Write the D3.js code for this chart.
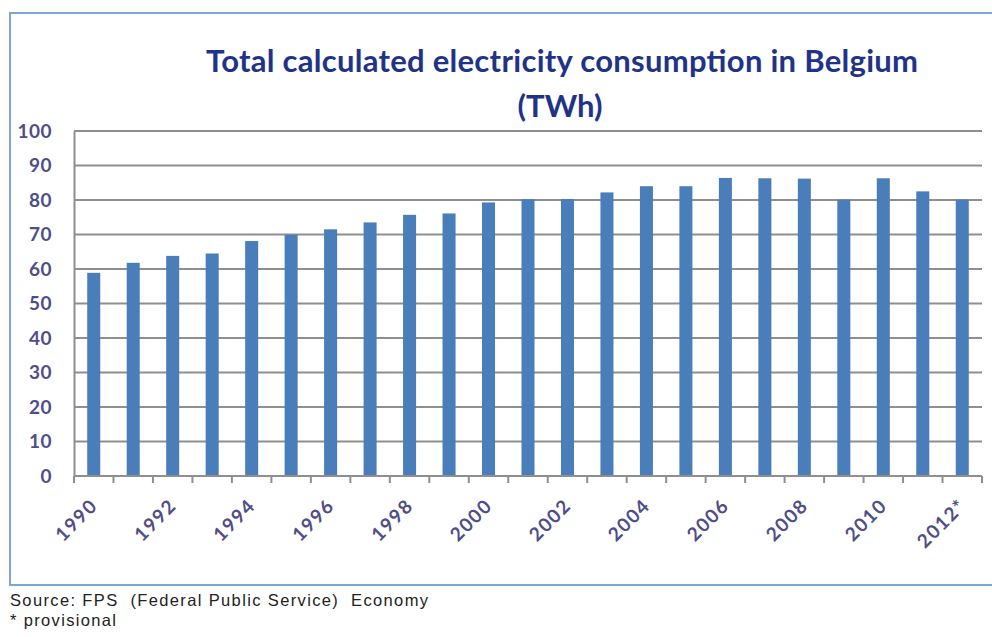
<!DOCTYPE html>
<html>
<head>
<meta charset="utf-8">
<script src="https://cdn.jsdelivr.net/npm/d3@7"></script>
<style>
  html, body { margin: 0; padding: 0; background: #ffffff; }
  svg { display: block; }
</style>
</head>
<body>
<svg id="chart" width="992" height="637"></svg>
<script>
// Annual electricity consumption, TWh
const years = ["1990","1991","1992","1993","1994","1995","1996","1997","1998","1999","2000",
               "2001","2002","2003","2004","2005","2006","2007","2008","2009","2010","2011","2012"];
const consumption = [58.9, 61.8, 63.8, 64.5, 68.1, 69.9, 71.5, 73.5, 75.7, 76.1, 79.3,
                     80.2, 80.3, 82.2, 84.0, 84.0, 86.4, 86.3, 86.2, 80.1, 86.3, 82.5, 80.1];
const yTicks = [0, 10, 20, 30, 40, 50, 60, 70, 80, 90, 100];
const xTickLabels = {"1990":"1990","1992":"1992","1994":"1994","1996":"1996","1998":"1998",
                     "2000":"2000","2002":"2002","2004":"2004","2006":"2006","2008":"2008",
                     "2010":"2010","2012":"2012*"};
const titleLines = ["Total calculated electricity consumption in Belgium", "(TWh)"];
const notes = ["Source: FPS  (Federal Public Service)  Economy", "* provisional"];

const svg = d3.select("#chart");
const plot = { left: 74, right: 982, top: 131, bottom: 476 };
const labelColor = "#4f4e88";
const axisFont = "Lato, 'Open Sans', sans-serif";

// frame around the chart
svg.append("rect")
  .attr("x", 10).attr("y", 13)
  .attr("width", 1000).attr("height", 572)
  .attr("fill", "#ffffff")
  .attr("stroke", "#7fa4d6").attr("stroke-width", 2);

const x = d3.scaleBand().domain(years).range([plot.left, plot.right]).paddingInner(0.67).paddingOuter(0.335);
const xTick = d3.scaleBand().domain(years).range([plot.left, plot.right]);
const y = d3.scaleLinear().domain([0, 100]).range([plot.bottom, plot.top]);

// horizontal gridlines
svg.append("g")
  .selectAll("line")
  .data(yTicks.filter(d => d > 0))
  .join("line")
  .attr("x1", plot.left).attr("x2", plot.right)
  .attr("y1", d => y(d)).attr("y2", d => y(d))
  .attr("stroke", "#8f8f8f").attr("stroke-width", 2);

// y axis
const yAxis = svg.append("g")
  .attr("transform", `translate(${plot.left},0)`)
  .call(d3.axisLeft(y).tickValues(yTicks).tickSize(0).tickPadding(22));
yAxis.select(".domain").attr("stroke", "#8f8f8f").attr("stroke-width", 2);
yAxis.selectAll("text")
  .attr("fill", labelColor)
  .style("font-family", axisFont)
  .style("font-weight", "bold")
  .style("font-size", "19px")
  .style("letter-spacing", "0.5px");

// bars
svg.append("g")
  .selectAll("rect")
  .data(years.map((yr, i) => ({ yr, v: consumption[i] })))
  .join("rect")
  .attr("x", d => x(d.yr))
  .attr("y", d => y(d.v))
  .attr("width", x.bandwidth())
  .attr("height", d => y(0) - y(d.v))
  .attr("fill", "#4a7ebb");

// x axis with ticks at category boundaries
const bx = svg.append("g").attr("transform", `translate(0,${plot.bottom})`);
bx.append("line")
  .attr("x1", plot.left).attr("x2", plot.right)
  .attr("stroke", "#8f8f8f").attr("stroke-width", 2);
bx.selectAll("line.tick")
  .data(years.map(yr => xTick(yr)).concat([plot.right]))
  .join("line")
  .attr("class", "tick")
  .attr("x1", d => d).attr("x2", d => d)
  .attr("y1", 0).attr("y2", 7)
  .attr("stroke", "#8f8f8f").attr("stroke-width", 2);

bx.selectAll("text")
  .data(years.filter(yr => xTickLabels[yr]))
  .join("text")
  .attr("transform", yr => `translate(${x(yr) + x.bandwidth() / 2 + 5},${31}) rotate(-45)`)
  .attr("text-anchor", "end")
  .attr("fill", labelColor)
  .style("font-family", axisFont)
  .style("font-weight", "bold")
  .style("font-size", "19px")
  .style("letter-spacing", "1.5px")
  .text(yr => xTickLabels[yr]);

// title
const title = svg.append("g")
  .attr("fill", "#1f3389")
  .style("font-family", axisFont)
  .style("font-weight", "bold")
  .style("font-size", "31px");
title.append("text")
  .attr("x", 562).attr("y", 72)
  .attr("text-anchor", "middle")
  .attr("textLength", 712)
  .attr("lengthAdjust", "spacing")
  .text(titleLines[0]);
title.append("text")
  .attr("x", 560).attr("y", 117)
  .attr("text-anchor", "middle")
  .text(titleLines[1]);

// source notes
const noteWidths = [418, 106];
svg.selectAll("text.note")
  .data(notes)
  .join("text")
  .attr("class", "note")
  .attr("x", 10)
  .attr("y", (d, i) => 606 + i * 20)
  .attr("fill", "#222222")
  .attr("textLength", (d, i) => noteWidths[i])
  .attr("lengthAdjust", "spacing")
  .style("font-family", "'Liberation Sans', Arial, sans-serif")
  .style("font-size", "16.5px")
  .style("white-space", "pre")
  .text(d => d);
</script>
</body>
</html>
